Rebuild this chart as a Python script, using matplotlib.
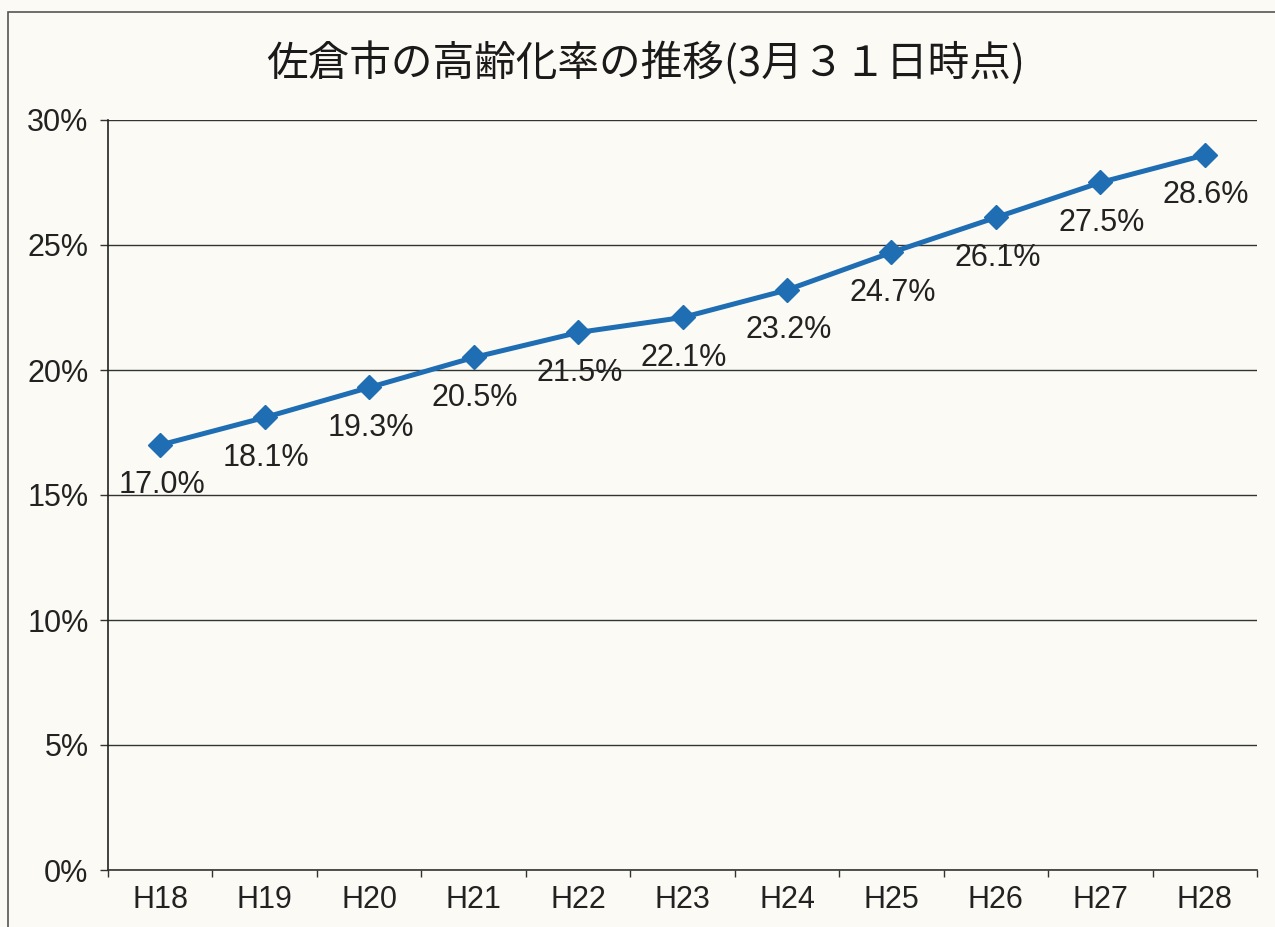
import matplotlib
matplotlib.use("Agg")
import matplotlib.pyplot as plt
from matplotlib.patches import Rectangle

categories = ["H18", "H19", "H20", "H21", "H22", "H23", "H24", "H25", "H26", "H27", "H28"]
rates = [17.0, 18.1, 19.3, 20.5, 21.5, 22.1, 23.2, 24.7, 26.1, 27.5, 28.6]
yticks = [0, 5, 10, 15, 20, 25, 30]
ytick_labels = ["0%", "5%", "10%", "15%", "20%", "25%", "30%"]
title = "佐倉市の高齢化率の推移(3月３１日時点)"

W, H = 1275, 927
bg = "#fbfaf4"
fig = plt.figure(figsize=(W / 100, H / 100), dpi=100, facecolor=bg)

# outer frame
fig.patches.append(Rectangle((8 / W, -0.05), 1.2, (H - 12) / H + 0.05,
                             transform=fig.transFigure, fill=False,
                             edgecolor="#555555", linewidth=1.2))

ax = fig.add_axes([108 / W, (H - 870) / H, (1257 - 108) / W, (870 - 120) / H])
ax.set_facecolor(bg)
x = list(range(len(categories)))
ax.set_xlim(-0.5, len(categories) - 0.5)
ax.set_ylim(0, 30)

ax.set_yticks(yticks)
ax.set_yticklabels(ytick_labels, fontsize=22, color="#222222", fontfamily="Liberation Sans")
ax.yaxis.grid(True, color="#333333", linewidth=1.0)
ax.set_axisbelow(True)

ax.set_xticks(x)
ax.set_xticklabels(categories, fontsize=22, color="#222222", fontfamily="Liberation Sans")
ax.set_xticks([i - 0.5 for i in range(len(categories) + 1)], minor=True)
ax.tick_params(axis="x", which="major", length=0, pad=11)
ax.tick_params(axis="x", which="minor", length=5, width=1.0, color="#333333", direction="out")
ax.tick_params(axis="y", length=6, width=1.0, color="#333333", pad=8)

for s in ["top", "right"]:
    ax.spines[s].set_visible(False)
ax.spines["left"].set_color("#222222")
ax.spines["bottom"].set_color("#333333")
ax.spines["left"].set_linewidth(1.2)
ax.spines["bottom"].set_linewidth(1.2)

ax.plot(x, rates, color="#1f6db3", linewidth=3.6, marker="D", markersize=12,
        markerfacecolor="#1f6db3", markeredgecolor="#1f6db3", zorder=3, clip_on=False)

for xi, v in zip(x, rates):
    ax.annotate(f"{v:.1f}%", (xi, v), xytext=(1, -29), textcoords="offset points",
                ha="center", va="center", fontsize=22, color="#222222",
                fontfamily="Liberation Sans", zorder=4)

fig.text(646 / W, 1 - 63 / H, title, ha="center", va="center", fontsize=30,
         fontfamily=["Noto Sans CJK JP", "DejaVu Sans"], color="#1a1a1a")

fig.savefig("out.png", dpi=100, facecolor=bg)
